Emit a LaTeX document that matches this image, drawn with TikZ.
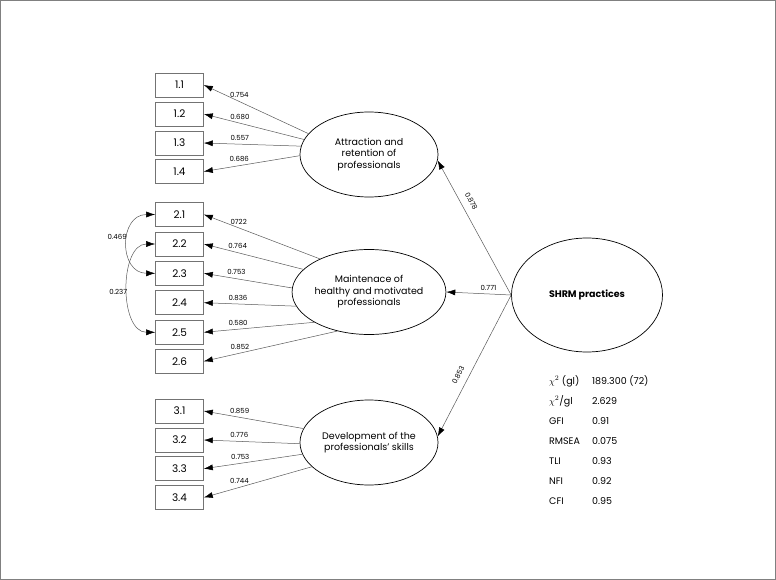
\documentclass[tikz,border=0pt]{standalone}
\usepackage{fontspec}
\setmainfont{Poppins}
\usetikzlibrary{shapes,arrows.meta}

\begin{document}
\begin{tikzpicture}[x=1pt,y=-1pt,>={Latex[length=9pt,width=6pt,color=black]},
  item/.style={shape=rectangle,draw=black!55,line width=0.6pt,minimum width=48pt,minimum height=24pt,inner sep=0pt,font=\fontsize{10.5}{12}\selectfont},
  factor/.style={shape=ellipse,draw=black,align=center,line width=0.7pt,minimum width=138pt,minimum height=85pt,inner sep=0pt,font=\fontsize{9.5}{11.5}\selectfont},
  link/.style={->,draw=black!65,line width=0.5pt},
  load/.style={above=2.5pt,inner sep=1pt,font=\fontsize{7}{8}\selectfont},
  fit/.style={anchor=west,inner sep=0pt,font=\fontsize{9.5}{11}\selectfont}]
\useasboundingbox (0,0) rectangle (776,580);
\draw[black!50,line width=1.2pt] (0.6,0.6) rectangle (775.4,579.4);

\node[item] (v11) at (179.5,85) {1.1};
\node[item] (v12) at (179.5,114) {1.2};
\node[item] (v13) at (179.5,143) {1.3};
\node[item] (v14) at (179.5,171.5) {1.4};
\node[item] (v21) at (179.5,214.5) {2.1};
\node[item] (v22) at (179.5,244) {2.2};
\node[item] (v23) at (179.5,273.3) {2.3};
\node[item] (v24) at (179.5,302.7) {2.4};
\node[item] (v25) at (179.5,332.3) {2.5};
\node[item] (v26) at (179.5,361.3) {2.6};
\node[item] (v31) at (179.5,411) {3.1};
\node[item] (v32) at (179.5,440) {3.2};
\node[item] (v33) at (179.5,468.7) {3.3};
\node[item] (v34) at (179.5,497.5) {3.4};

\node[factor] (attr) at (369,154.5) {Attraction and\\retention of\\professionals};
\node[factor] (maint) at (369,292) {Maintenace of\\healthy and motivated\\professionals};
\node[factor] (dev) at (369,442.5) {Development of the\\professionals' skills};
\node[factor,minimum width=151pt,minimum height=114pt] (shrm) at (587,295) {\bfseries SHRM practices};

\path (attr.161) edge[link] node[load,pos=0.66] {0.754} (v11.east);
\path (attr.167) edge[link] node[load,pos=0.64] {0.680} (v12.east);
\path (attr.173) edge[link] node[load,pos=0.63] {0.557} (v13.east);
\path (attr.181) edge[link] node[load,pos=0.63] {0.686} (v14.east);
\path (maint.146) edge[link] node[load,pos=0.7] {0722} (v21.east);
\path (maint.161) edge[link] node[load,pos=0.66] {0.764} (v22.east);
\path (maint.177) edge[link] node[load,pos=0.63] {0.753} (v23.east);
\path (maint.191) edge[link] node[load,pos=0.63] {0.836} (v24.east);
\path (maint.209) edge[link] node[load,pos=0.69] {0.580} (v25.east);
\path (maint.231) edge[link] node[load,pos=0.73] {0.852} (v26.east);
\path (dev.168) edge[link] node[load,pos=0.64] {0.859} (v31.east);
\path (dev.181) edge[link] node[load,pos=0.63] {0.776} (v32.east);
\path (dev.190) edge[link] node[load,pos=0.63] {0.753} (v33.east);
\path (dev.203) edge[link] node[load,pos=0.67] {0.744} (v34.east);

\path (v21.west) edge[link,<->,out=180,in=180,looseness=1.6] node[load,left,pos=0.45] {0.469} (v23.west);
\path (v22.west) edge[link,<->,out=180,in=180,looseness=1.05] node[load,left,pos=0.55] {0.237} (v25.west);

\path (shrm.west) edge[link] node[load,sloped,above=3.5pt,pos=0.66] {0.878} (attr.-5);
\path (shrm.west) edge[link] node[load,pos=0.35] {0.771} (maint.east);
\path (shrm.west) edge[link] node[load,sloped,above=3.5pt,pos=0.6] {0.853} (dev.5);

\node[fit] (k1) at (549,381) {$\chi^2$ (gl)};
\node[fit] (k2) at (549,401) {$\chi^2$/gl};
\node[fit] (k3) at (549,421) {GFI};
\node[fit] (k4) at (549,441) {RMSEA};
\node[fit] (k5) at (549,461) {TLI};
\node[fit] (k6) at (549,481) {NFI};
\node[fit] (k7) at (549,501) {CFI};
\node[fit] (w1) at (592,381) {189.300 (72)};
\node[fit] (w2) at (592,401) {2.629};
\node[fit] (w3) at (592,421) {0.91};
\node[fit] (w4) at (592,441) {0.075};
\node[fit] (w5) at (592,461) {0.93};
\node[fit] (w6) at (592,481) {0.92};
\node[fit] (w7) at (592,501) {0.95};
\end{tikzpicture}
\end{document}
